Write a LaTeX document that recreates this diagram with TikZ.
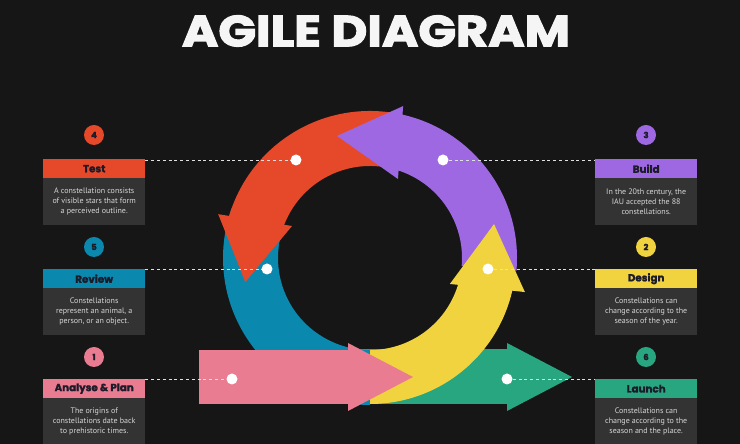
\documentclass[tikz,border=0pt]{standalone}
\usepackage{fontspec}
\usepackage{graphicx}
\setmainfont{PT Sans}
\newfontfamily\headfont{Poppins}[BoldFeatures={FakeBold=1.5}]
\newfontfamily\titlefont{Poppins}[BoldFeatures={FakeBold=2.5}]
\definecolor{bg}{HTML}{161616}
\definecolor{bodygray}{HTML}{333333}
\definecolor{bodytext}{HTML}{D6D6D6}
\definecolor{headtext}{HTML}{1C1B29}
\definecolor{cred}{HTML}{E5492A}
\definecolor{cpurple}{HTML}{9F68E3}
\definecolor{cblue}{HTML}{0B88AE}
\definecolor{cyellow}{HTML}{F1D23F}
\definecolor{cpink}{HTML}{E97C90}
\definecolor{cgreen}{HTML}{27A67F}
\tikzset{
  headbox/.style={fill=#1, minimum width=102pt, minimum height=19pt, inner sep=0pt, anchor=north west,
    font=\headfont\bfseries\fontsize{10.3}{12}\selectfont, text=headtext},
  bodybox/.style={fill=bodygray, minimum width=102pt, minimum height=47pt, inner sep=0pt, anchor=north west,
    align=center, text=bodytext, font=\fontsize{8}{9.8}\selectfont},
  numcirc/.style={circle, fill=#1, minimum size=20pt, inner sep=0pt,
    font=\headfont\bfseries\fontsize{8.5}{10}\selectfont, text=headtext},
  whitedot/.style={circle, fill=white, minimum size=11pt, inner sep=0pt},
  guide/.style={draw=white!88!black, line width=0.9pt, dash pattern=on 3pt off 2.8pt}
}
\begin{document}
\begin{tikzpicture}[x=1pt,y=1pt]
\fill[bg] (0,0) rectangle (740,444);
\useasboundingbox (0,0) rectangle (740,444);

% title
\node[text=white!96!black, inner sep=0pt] (title) at (376,413) {\resizebox{388pt}{31pt}{\titlefont\bfseries AGILE DIAGRAM}};

% green arrow (behind)
\fill[cgreen] (360,40) rectangle (507,95);
\fill[cgreen] (507,101) -- (507,33) -- (572,67) -- cycle;

\begin{scope}[shift={(370,186)}]
  % blue
  \fill[cblue] (160:147) arc[start angle=160, end angle=270, radius=147]
     -- (270:92) arc[start angle=270, end angle=160, radius=92] -- cycle;
  % red
  \fill[cred] (79:147) arc[start angle=79, end angle=166, radius=147]
     -- (160:92) arc[start angle=160, end angle=79, radius=92] -- cycle;
  \fill[cred] (157.7:84.3) -- (163.9:158) -- (190.9:127) -- cycle;
  % purple
  \fill[cpurple] (-5:147) arc[start angle=-5, end angle=79.5, radius=147]
     -- (73.5:92) arc[start angle=73.5, end angle=-5, radius=92] -- cycle;
  \fill[cpurple] (70.5:83.8) -- (77.7:155.5) -- (105.1:126.4) -- cycle;
  % yellow
  \fill[cyellow] (-90:146) arc[start angle=-90, end angle=-10.5, radius=146]
     -- (-15.5:92) arc[start angle=-15.5, end angle=-90, radius=92] -- cycle;
  \fill[cyellow] (-18:84) -- (-12.4:158.6) -- (15.3:128.6) -- cycle;
\end{scope}

% pink arrow (front)
\fill[cpink] (199,40) rectangle (348,94);
\fill[cpink] (348,101) -- (348,33) -- (413,67) -- cycle;

% left column
\node[numcirc=cred] (n4) at (94,309) {4};
\node[headbox=cred] (testhead) at (43,285) {Test};
\node[bodybox] (testbody) at (43,266) {A constellation consists\\of visible stars that form\\a perceived outline.};

\node[numcirc=cblue] (n5) at (94,197) {5};
\node[headbox=cblue] (reviewhead) at (43,175) {Review};
\node[bodybox] (reviewbody) at (43,156) {Constellations\\represent an animal, a\\person, or an object.};

\node[numcirc=cpink] (n1) at (94,87) {1};
\node[headbox=cpink] (analysehead) at (43,65) {Analyse \& Plan};
\node[bodybox] (analysebody) at (43,46) {The origins of\\constellations date back\\to prehistoric times.};

% right column
\node[numcirc=cpurple] (n3) at (646,309) {3};
\node[headbox=cpurple] (buildhead) at (595,285) {Build};
\node[bodybox] (buildbody) at (595,266) {In the 20th century, the\\IAU accepted the 88\\constellations.};

\node[numcirc=cyellow] (n2) at (646,197) {2};
\node[headbox=cyellow] (designhead) at (595,175) {Design};
\node[bodybox] (designbody) at (595,156) {Constellations can\\change according to the\\season of the year.};

\node[numcirc=cgreen] (n6) at (646,87) {6};
\node[headbox=cgreen] (launchhead) at (595,65) {Launch};
\node[bodybox] (launchbody) at (595,46) {Constellations can\\change according to the\\season and the place.};

% dots
\coordinate (dred) at (296,284);
\coordinate (dpurple) at (443,284);
\coordinate (dblue) at (267,175);
\coordinate (dyellow) at (488,175);
\coordinate (dpink) at (232,65);
\coordinate (dgreen) at (507,65);

\draw[guide] (testhead.east |- dred) -- (dred);
\draw[guide] (dpurple) -- (buildhead.west |- dpurple);
\draw[guide] (reviewhead.east |- dblue) -- (dblue);
\draw[guide] (dyellow) -- (designhead.west |- dyellow);
\draw[guide] (analysehead.east |- dpink) -- (dpink);
\draw[guide] (dgreen) -- (launchhead.west |- dgreen);

\node[whitedot] (wred) at (dred) {};
\node[whitedot] (wpurple) at (dpurple) {};
\node[whitedot] (wblue) at (dblue) {};
\node[whitedot] (wyellow) at (dyellow) {};
\node[whitedot] (wpink) at (dpink) {};
\node[whitedot] (wgreen) at (dgreen) {};
\end{tikzpicture}
\end{document}
